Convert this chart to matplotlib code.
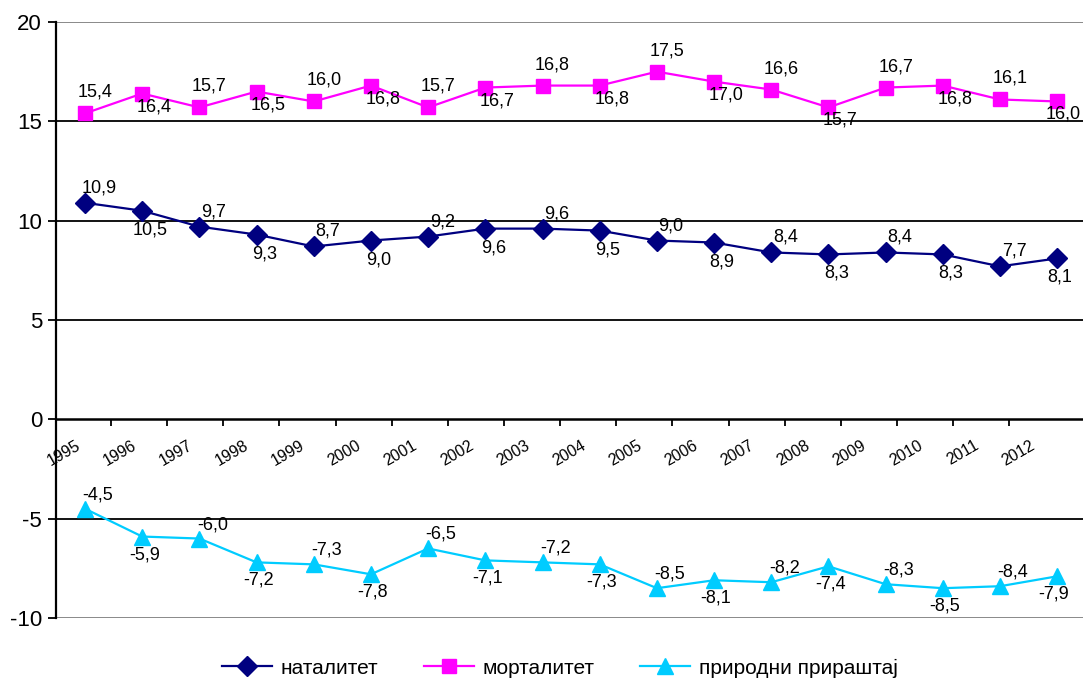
import matplotlib
matplotlib.use("Agg")
import matplotlib.pyplot as plt
import numpy as np

plt.rcParams['font.family'] = ['Liberation Sans', 'DejaVu Sans']

years = ['1995', '1996', '1997', '1998', '1999', '2000', '2001', '2002', '2003',
         '2004', '2005', '2006', '2007', '2008', '2009', '2010', '2011', '2012']
natalitet = [10.9, 10.5, 9.7, 9.3, 8.7, 9.0, 9.2, 9.6, 9.6, 9.5, 9.0, 8.9, 8.4, 8.3, 8.4, 8.3, 7.7, 8.1]
mortalitet = [15.4, 16.4, 15.7, 16.5, 16.0, 16.8, 15.7, 16.7, 16.8, 16.8, 17.5, 17.0, 16.6, 15.7, 16.7, 16.8, 16.1, 16.0]
prirastaj = [-4.5, -5.9, -6.0, -7.2, -7.3, -7.8, -6.5, -7.1, -7.2, -7.3, -8.5, -8.1, -8.2, -7.4, -8.3, -8.5, -8.4, -7.9]
series_names = ['наталитет', 'морталитет', 'природни прираштај']
y_ticks = [-10, -5, 0, 5, 10, 15, 20]

fig = plt.figure(figsize=(10.83, 6.84), dpi=100)
ax = fig.add_axes([56 / 1083, 1 - 618 / 684, 1 - 56 / 1083, (618 - 22) / 684])

x = np.arange(len(years))
ax.set_xlim(-0.507, 17.45)
ax.set_ylim(-10, 20)

# horizontal grid; outer border lines are grey
for yv in y_ticks:
    if yv in (20, -10):
        ax.axhline(yv, color='#808080', lw=1.3, zorder=1)
    elif yv != 0:
        ax.axhline(yv, color='black', lw=1.3, zorder=1)

for s in ['top', 'right']:
    ax.spines[s].set_visible(False)
ax.spines['left'].set_linewidth(1.6)
ax.spines['bottom'].set_position(('data', 0))
ax.spines['bottom'].set_linewidth(1.8)

ax.set_yticks(y_ticks)
ax.set_yticklabels([str(v) for v in y_ticks], fontsize=16)
ax.tick_params(axis='y', length=6, width=1.3, pad=4)

# x axis: tick marks and year labels sit on their own spacing
step = 56.2 / 57.24
tick_pos = 0.454 + step * np.arange(17)
lab_pos = -0.105 + step * np.arange(len(years))
ax.set_xticks(tick_pos)
ax.set_xticklabels([])
ax.tick_params(axis='x', direction='out', length=5, width=1.3)
for px, lab in zip(lab_pos, years):
    ax.annotate(lab, xy=(px, 0), xytext=(0, -25), textcoords='offset pixels',
                rotation=30, rotation_mode='anchor', ha='right', va='center',
                fontsize=11.5)

styles = [
    (natalitet, '#000080', 'D', 10.5, (14, 15), (8, -19)),
    (mortalitet, '#FF00FF', 's', 10, (10, 21), (12, -13)),
    (prirastaj, '#00CCFF', '^', 11, (13, 14), (2, -18)),
]
for (vals, col, mk, ms, up, dn), name in zip(styles, series_names):
    ax.plot(x, vals, color=col, lw=1.6, marker=mk, markersize=ms,
            markeredgecolor=col, label=name, zorder=3)
    for i, v in enumerate(vals):
        off = up if i % 2 == 0 else dn
        if i == len(vals) - 1:
            off = (off[0] - 6, off[1])
        ax.annotate(f'{v:.1f}'.replace('.', ','), xy=(i, v), xytext=off,
                    textcoords='offset pixels', ha='center', va='center',
                    fontsize=13, zorder=4)

fig.legend(loc='center', bbox_to_anchor=(560 / 1083, 1 - 668 / 684), ncol=3,
           frameon=False, fontsize=15, handlelength=2.4, columnspacing=2.2,
           handletextpad=0.4)

fig.savefig('out.png', dpi=100)
